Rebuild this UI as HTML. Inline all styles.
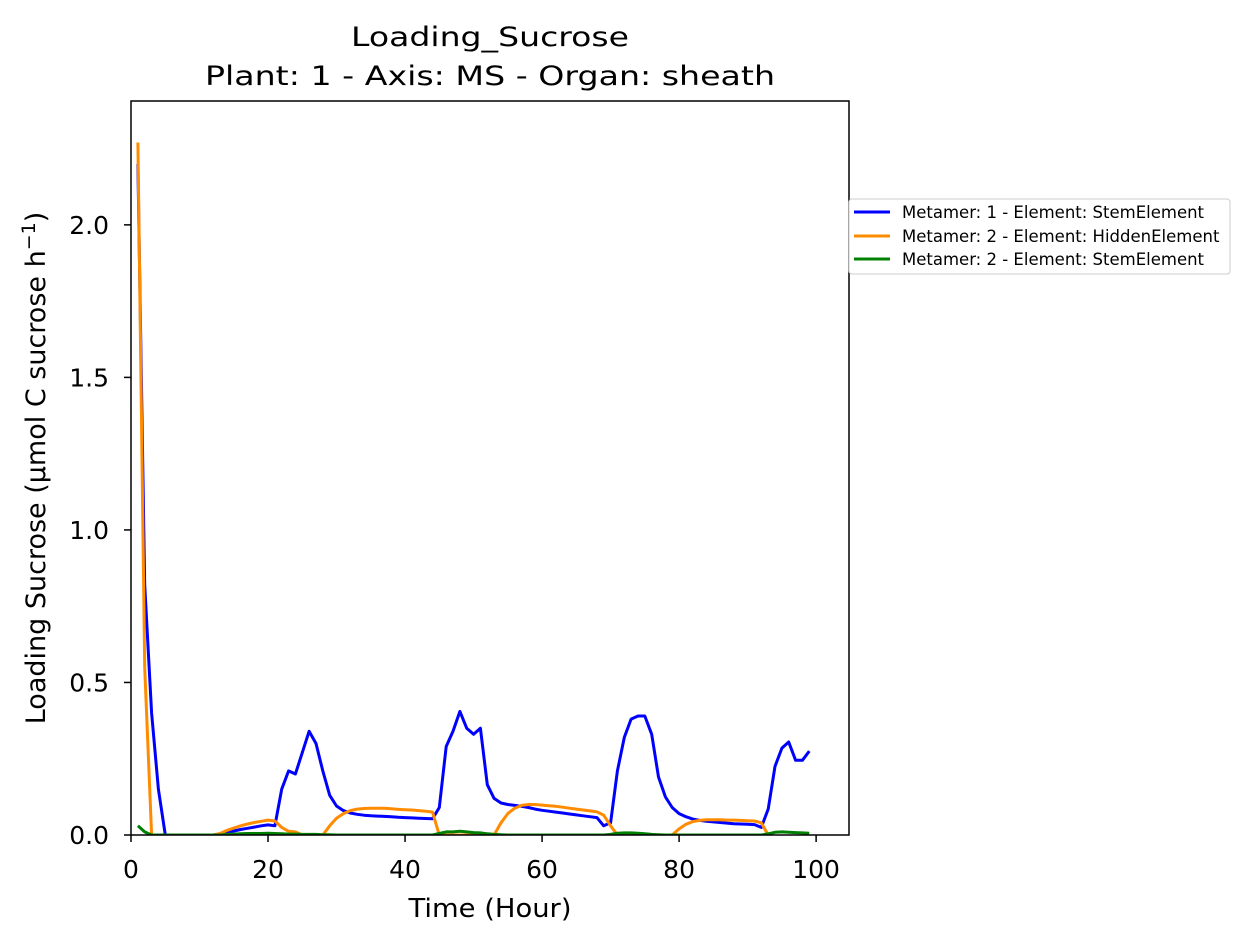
<!DOCTYPE html>
<html><head><meta charset="utf-8"><style>
html,body{margin:0;padding:0;background:#fff;}
svg{display:block;font-family:"DejaVu Sans","Liberation Sans",sans-serif;}
</style></head><body>
<svg id="chart" width="1250" height="943" viewBox="0 0 1250 943">
<rect width="1250" height="943" fill="#fff"/>
<text x="490" y="46" font-size="27" text-anchor="middle" textLength="278" lengthAdjust="spacingAndGlyphs">Loading_Sucrose</text>
<text x="490" y="85" font-size="27" text-anchor="middle" textLength="570" lengthAdjust="spacingAndGlyphs">Plant: 1 - Axis: MS - Organ: sheath</text>
<g id="plot"></g>
<text x="490" y="917" font-size="26" text-anchor="middle" textLength="163" lengthAdjust="spacingAndGlyphs">Time (Hour)</text>
<text transform="translate(45,468) rotate(-90)" font-size="27" text-anchor="middle">Loading Sucrose (µmol C sucrose h<tspan dy="-10" font-size="19">−1</tspan><tspan dy="10">)</tspan></text>
<g>
<rect x="849" y="199" width="381" height="75" rx="3" fill="#fff" stroke="#ccc" stroke-width="1"/>
<line x1="854" y1="212" x2="890" y2="212" stroke="#0000ff" stroke-width="3"/>
<text x="902" y="218" font-size="16.5">Metamer: 1 - Element: StemElement</text>
<line x1="854" y1="236" x2="890" y2="236" stroke="#ff8c00" stroke-width="3"/>
<text x="902" y="242" font-size="16.5">Metamer: 2 - Element: HiddenElement</text>
<line x1="854" y1="259" x2="890" y2="259" stroke="#008000" stroke-width="3"/>
<text x="902" y="265" font-size="16.5">Metamer: 2 - Element: StemElement</text>
</g>
</svg>
<script>
const hours = Array.from({length:99},(_, i)=>i+1);
const blueVals = [2.2,0.82,0.4,0.15,0,0,0,0,0,0,0,0,0.003,0.008,0.013,0.018,0.022,0.026,0.03,0.033,0.03,0.15,0.21,0.2,0.27,0.34,0.3,0.21,0.13,0.095,0.08,0.072,0.068,0.065,0.063,0.062,0.061,0.06,0.058,0.057,0.056,0.055,0.054,0.053,0.09,0.29,0.34,0.405,0.35,0.33,0.35,0.165,0.12,0.105,0.1,0.097,0.094,0.09,0.085,0.081,0.078,0.075,0.072,0.069,0.066,0.063,0.06,0.057,0.03,0.04,0.21,0.32,0.38,0.39,0.39,0.33,0.19,0.125,0.09,0.07,0.06,0.052,0.048,0.045,0.043,0.041,0.039,0.037,0.036,0.035,0.034,0.025,0.085,0.225,0.285,0.305,0.245,0.245,0.275];
const orangeVals = [2.27,0.55,0,0,0,0,0,0,0,0,0,0,0.005,0.015,0.023,0.03,0.036,0.041,0.045,0.049,0.046,0.025,0.012,0.01,0,0,0,0,0.03,0.055,0.07,0.08,0.085,0.087,0.088,0.088,0.088,0.086,0.084,0.083,0.082,0.08,0.078,0.075,0,0,0,0,0,0,0,0,0,0.04,0.07,0.088,0.097,0.1,0.1,0.098,0.096,0.094,0.091,0.088,0.085,0.082,0.079,0.076,0.065,0.03,0,0,0,0,0,0,0,0,0,0.02,0.035,0.044,0.048,0.05,0.05,0.05,0.049,0.049,0.048,0.047,0.046,0.04,0];
const greenVals = [0.03,0.01,0,0,0,0,0,0,0,0,0,0,0,0.002,0.003,0.004,0.005,0.005,0.005,0.006,0.005,0.004,0.003,0.003,0.002,0.002,0.002,0.001,0.001,0,0,0,0,0,0,0,0,0,0,0,0,0,0,0,0.005,0.01,0.01,0.012,0.01,0.008,0.007,0.004,0.002,0.001,0,0,0,0,0,0,0,0,0,0,0,0,0,0,0,0.002,0.006,0.007,0.007,0.006,0.004,0.002,0.001,0,0,0,0,0,0,0,0,0,0,0,0,0,0,0,0.004,0.009,0.01,0.009,0.008,0.007,0.006];
const xTicks = [0,20,40,60,80,100];
const yTicks = [0.0,0.5,1.0,1.5,2.0];
const xTickLabels = ["0","20","40","60","80","100"];
const yTickLabels = ["0.0","0.5","1.0","1.5","2.0"];
const L=131,R=849,T=101,B=835;
const xMin=0,xMax=104.8,yMin=0,yMax=2.406;
const sx=v=>L+(v-xMin)/(xMax-xMin)*(R-L);
const sy=v=>B-(v-yMin)/(yMax-yMin)*(B-T);
const NS="http://www.w3.org/2000/svg";
const g=document.getElementById('plot');
function mk(t,a){const e=document.createElementNS(NS,t);for(const k in a)e.setAttribute(k,a[k]);return e;}
const clip=mk('clipPath',{id:'clp'});clip.appendChild(mk('rect',{x:L,y:T,width:R-L,height:B-T}));g.appendChild(clip);
const series=[[blueVals,'#0000ff','series-m1-stem'],[orangeVals,'#ff8c00','series-m2-hidden'],[greenVals,'#008000','series-m2-stem']];
series.forEach(s=>{
  const p=mk('polyline',{points:hours.map((h,i)=>sx(h).toFixed(1)+','+sy(s[0][i]).toFixed(1)).join(' '),fill:'none',stroke:s[1],'stroke-width':3,'stroke-linejoin':'round','clip-path':'url(#clp)'});
  
  
  g.appendChild(p);
});
const frame=mk('rect',{x:L,y:T,width:R-L,height:B-T,fill:'none',stroke:'#000','stroke-width':1.5});


g.appendChild(frame);
xTicks.forEach((v,i)=>{
  const x=sx(v);
  const tk=mk('line',{x1:x,y1:B,x2:x,y2:B+7,stroke:'#000','stroke-width':1.5});
  
  
  g.appendChild(tk);
  const t=mk('text',{x:x,y:878,'font-size':25,'text-anchor':'middle'});t.textContent=xTickLabels[i];
  
  
  g.appendChild(t);
});
yTicks.forEach((v,i)=>{
  const y=sy(v);
  const tk=mk('line',{x1:L-7,y1:y,x2:L,y2:y,stroke:'#000','stroke-width':1.5});
  
  
  g.appendChild(tk);
  const t=mk('text',{x:109,y:y+9,'font-size':25,'text-anchor':'end'});t.textContent=yTickLabels[i];
  
  
  g.appendChild(t);
});
</script>
</body></html>
